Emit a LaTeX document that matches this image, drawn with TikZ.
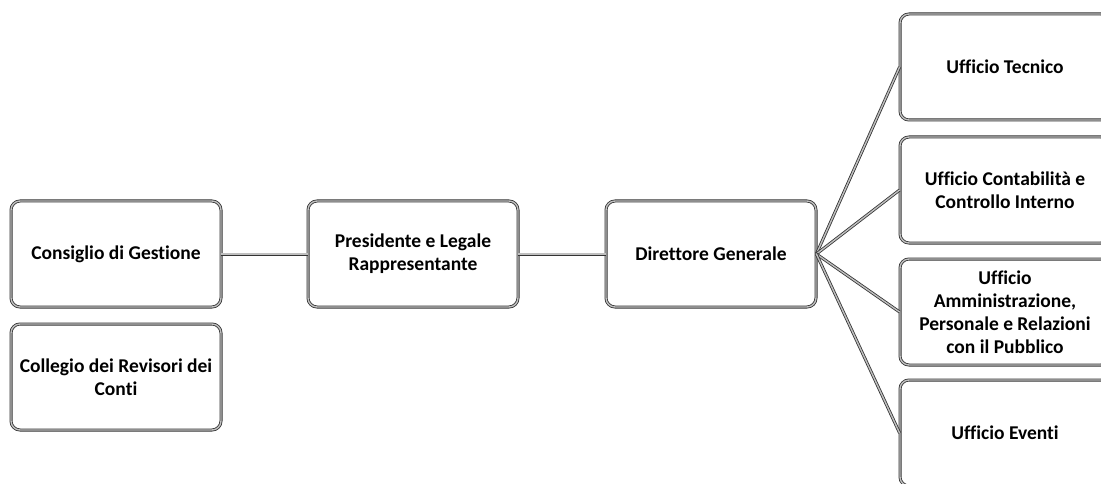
\documentclass[tikz,border=0pt]{standalone}
\usepackage{fontspec}
\setmainfont[Ligatures=CommonOff]{Carlito}
\begin{document}
\begin{tikzpicture}[x=1pt,y=-1pt,
  box/.style={draw=black!80, double=gray!50, double distance=1.4pt, line width=0.8pt,
    rounded corners=9pt, minimum width=210pt, minimum height=106pt, align=center,
    font=\fontsize{19.5}{23}\selectfont\bfseries, inner sep=1pt},
  link/.style={draw=black!80, double=gray!50, double distance=1.4pt, line width=0.8pt}]
\useasboundingbox (0,0) rectangle (1101,484);
\clip (0,0) rectangle (1101,484);
\fill[white] (0,0) rectangle (1101,484);
\node[box] (cg) at (116,254) {Consiglio di Gestione};
\node[box] (cr) at (116,377) {Collegio dei Revisori dei\\Conti};
\node[box] (pr) at (413,254) {Presidente e Legale\\Rappresentante};
\node[box] (dg) at (711,254) {Direttore Generale};
\node[box] (ut) at (1005,67) {Ufficio Tecnico};
\node[box] (uc) at (1005,190) {Ufficio Contabilità e\\Controllo Interno};
\node[box] (ua) at (1005,312) {Ufficio\\Amministrazione,\\Personale e Relazioni\\con il Pubblico};
\node[box] (ue) at (1005,433) {Ufficio Eventi};
\draw[link] (cg.east) -- (pr.west);
\draw[link] (pr.east) -- (dg.west);
\draw[link] (dg.east) -- (ut.west);
\draw[link] (dg.east) -- (uc.west);
\draw[link] (dg.east) -- (ua.west);
\draw[link] (dg.east) -- (ue.west);
\end{tikzpicture}
\end{document}
